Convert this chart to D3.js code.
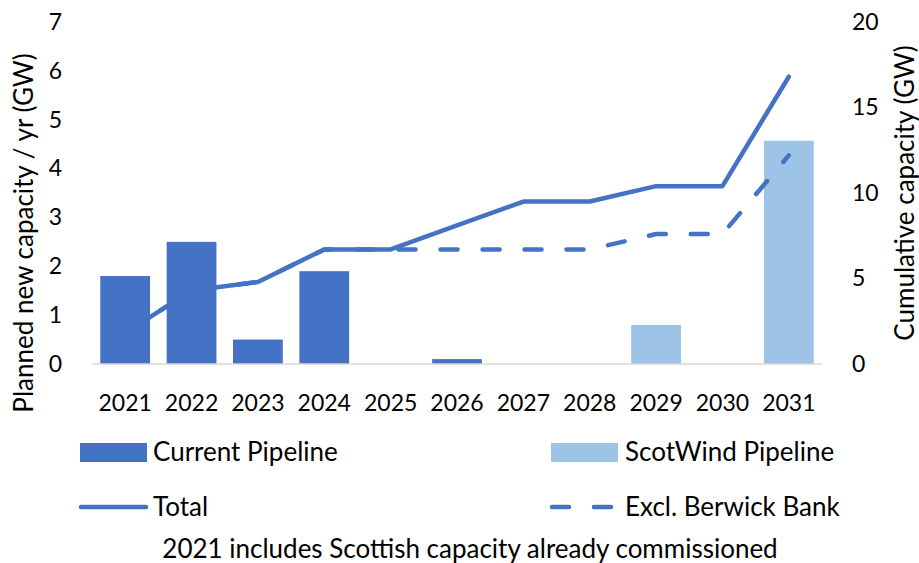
<!DOCTYPE html>
<html>
<head>
<meta charset="utf-8">
<script src="https://cdn.jsdelivr.net/npm/d3@7"></script>
<style>
  body { margin: 0; background: #fff; }
  text { font-family: Lato, "Open Sans", sans-serif; fill: #000; }
</style>
</head>
<body>
<div id="wrapper"></div>
<script>
// values
const years = ["2021","2022","2023","2024","2025","2026","2027","2028","2029","2030","2031"]
const currentPipeline = [1.8, 2.5, 0.5, 1.9, 0, 0.1, 0, 0, 0, 0, 0]
const scotwindPipeline = [0, 0, 0, 0, 0, 0, 0, 0, 0.8, 0, 4.57]
const totalCum = [1.8, 4.3, 4.8, 6.7, 6.7, 8.1, 9.5, 9.5, 10.4, 10.4, 16.8]
const exclBerwick = [1.8, 4.3, 4.8, 6.7, 6.7, 6.7, 6.7, 6.7, 7.6, 7.6, 12.2]
const leftTicks = [0, 1, 2, 3, 4, 5, 6, 7]
const rightTicks = [0, 5, 10, 15, 20]

const dark = "#4472c4", light = "#9dc3e6"

const dimension = {
    width: 919,
    height: 563,
    margin: { top: 22, left: 92, right: 97, bottom: 199 }
}
dimension.boundedWidth = dimension.width - dimension.margin.left - dimension.margin.right
dimension.boundedHeight = dimension.height - dimension.margin.top - dimension.margin.bottom

const svg = d3.select("#wrapper").append("svg")
    .attr("width", dimension.width)
    .attr("height", dimension.height)

const bounds = svg.append("g")
    .attr("transform", `translate(${dimension.margin.left},${dimension.margin.top})`)

const x = d3.scaleBand().domain(years).range([0, dimension.boundedWidth]).paddingInner(0.25).paddingOuter(0.125)
const xc = d => x(d) + x.bandwidth() / 2
const yL = d3.scaleLinear().domain([0, 7]).range([dimension.boundedHeight, 0])
const yR = d3.scaleLinear().domain([0, 20]).range([dimension.boundedHeight, 0])

// bars
const barData = years.map((yr, i) => ({ yr, cur: currentPipeline[i], sw: scotwindPipeline[i] }))
bounds.selectAll("rect.cur").data(barData.filter(d => d.cur > 0)).enter()
    .append("rect").attr("class", "cur")
    .attr("x", d => x(d.yr)).attr("width", x.bandwidth())
    .attr("y", d => yL(d.cur)).attr("height", d => yL(0) - yL(d.cur))
    .attr("fill", dark)
bounds.selectAll("rect.sw").data(barData.filter(d => d.sw > 0)).enter()
    .append("rect").attr("class", "sw")
    .attr("x", d => x(d.yr)).attr("width", x.bandwidth())
    .attr("y", d => yL(d.sw)).attr("height", d => yL(0) - yL(d.sw))
    .attr("fill", light)

// baseline
bounds.append("line")
    .attr("x1", 0).attr("x2", dimension.boundedWidth)
    .attr("y1", yL(0)).attr("y2", yL(0))
    .attr("stroke", "#d9d9d9").attr("stroke-width", 1.5)

// lines
const line = d3.line().x((d, i) => xc(years[i])).y(d => yR(d))
bounds.append("path").datum(exclBerwick)
    .attr("d", line).attr("fill", "none").attr("stroke", dark)
    .attr("stroke-width", 4.5).attr("stroke-linecap", "round").attr("stroke-linejoin", "round")
    .attr("stroke-dasharray", "17,25")
bounds.append("path").datum(totalCum)
    .attr("d", line).attr("fill", "none").attr("stroke", dark)
    .attr("stroke-width", 4.5).attr("stroke-linecap", "round").attr("stroke-linejoin", "round")

// axes
const fs = 23, fsBig = 26
const xAxis = bounds.append("g").attr("transform", `translate(0,${dimension.boundedHeight})`)
    .call(d3.axisBottom(x).tickSize(0).tickPadding(31))
xAxis.select(".domain").remove()
xAxis.selectAll("text").style("font-size", fs + "px").style("font-family", "Lato")

const yAxisL = bounds.append("g")
    .call(d3.axisLeft(yL).tickValues(leftTicks).tickFormat(d3.format("d")).tickSize(0).tickPadding(30))
yAxisL.select(".domain").remove()
yAxisL.selectAll("text").style("font-size", fs + "px").style("font-family", "Lato")

const yAxisR = bounds.append("g").attr("transform", `translate(${dimension.boundedWidth},0)`)
    .call(d3.axisRight(yR).tickValues(rightTicks).tickFormat(d3.format("d")).tickSize(0).tickPadding(30))
yAxisR.select(".domain").remove()
yAxisR.selectAll("text").style("font-size", fs + "px").style("font-family", "Lato")

// axis titles
svg.append("text")
    .attr("transform", "translate(33,233) rotate(-90)")
    .attr("text-anchor", "middle")
    .style("font-size", fsBig + "px")
    .text("Planned new capacity / yr (GW)")
svg.append("text")
    .attr("transform", "translate(914,193) rotate(-90)")
    .attr("text-anchor", "middle")
    .style("font-size", fsBig + "px")
    .text("Cumulative capacity (GW)")

// legend
const legend = svg.append("g")
legend.append("rect").attr("x", 80).attr("y", 443).attr("width", 67).attr("height", 19).attr("fill", dark)
legend.append("text").attr("x", 153).attr("y", 461).style("font-size", fsBig + "px").text("Current Pipeline")
legend.append("rect").attr("x", 551).attr("y", 443).attr("width", 67).attr("height", 19).attr("fill", light)
legend.append("text").attr("x", 625).attr("y", 461).style("font-size", fsBig + "px").text("ScotWind Pipeline")

legend.append("line").attr("x1", 81).attr("x2", 146).attr("y1", 507).attr("y2", 507)
    .attr("stroke", dark).attr("stroke-width", 4.5).attr("stroke-linecap", "round")
legend.append("text").attr("x", 153).attr("y", 516).style("font-size", fsBig + "px").text("Total")
legend.append("line").attr("x1", 552).attr("x2", 617).attr("y1", 507).attr("y2", 507)
    .attr("stroke", dark).attr("stroke-width", 4.5).attr("stroke-linecap", "round")
    .attr("stroke-dasharray", "17,25")
legend.append("text").attr("x", 625).attr("y", 516).style("font-size", fsBig + "px").text("Excl. Berwick Bank")

svg.append("text").attr("x", 470).attr("y", 558).attr("text-anchor", "middle")
    .style("font-size", fsBig + "px")
    .text("2021 includes Scottish capacity already commissioned")
</script>
</body>
</html>
